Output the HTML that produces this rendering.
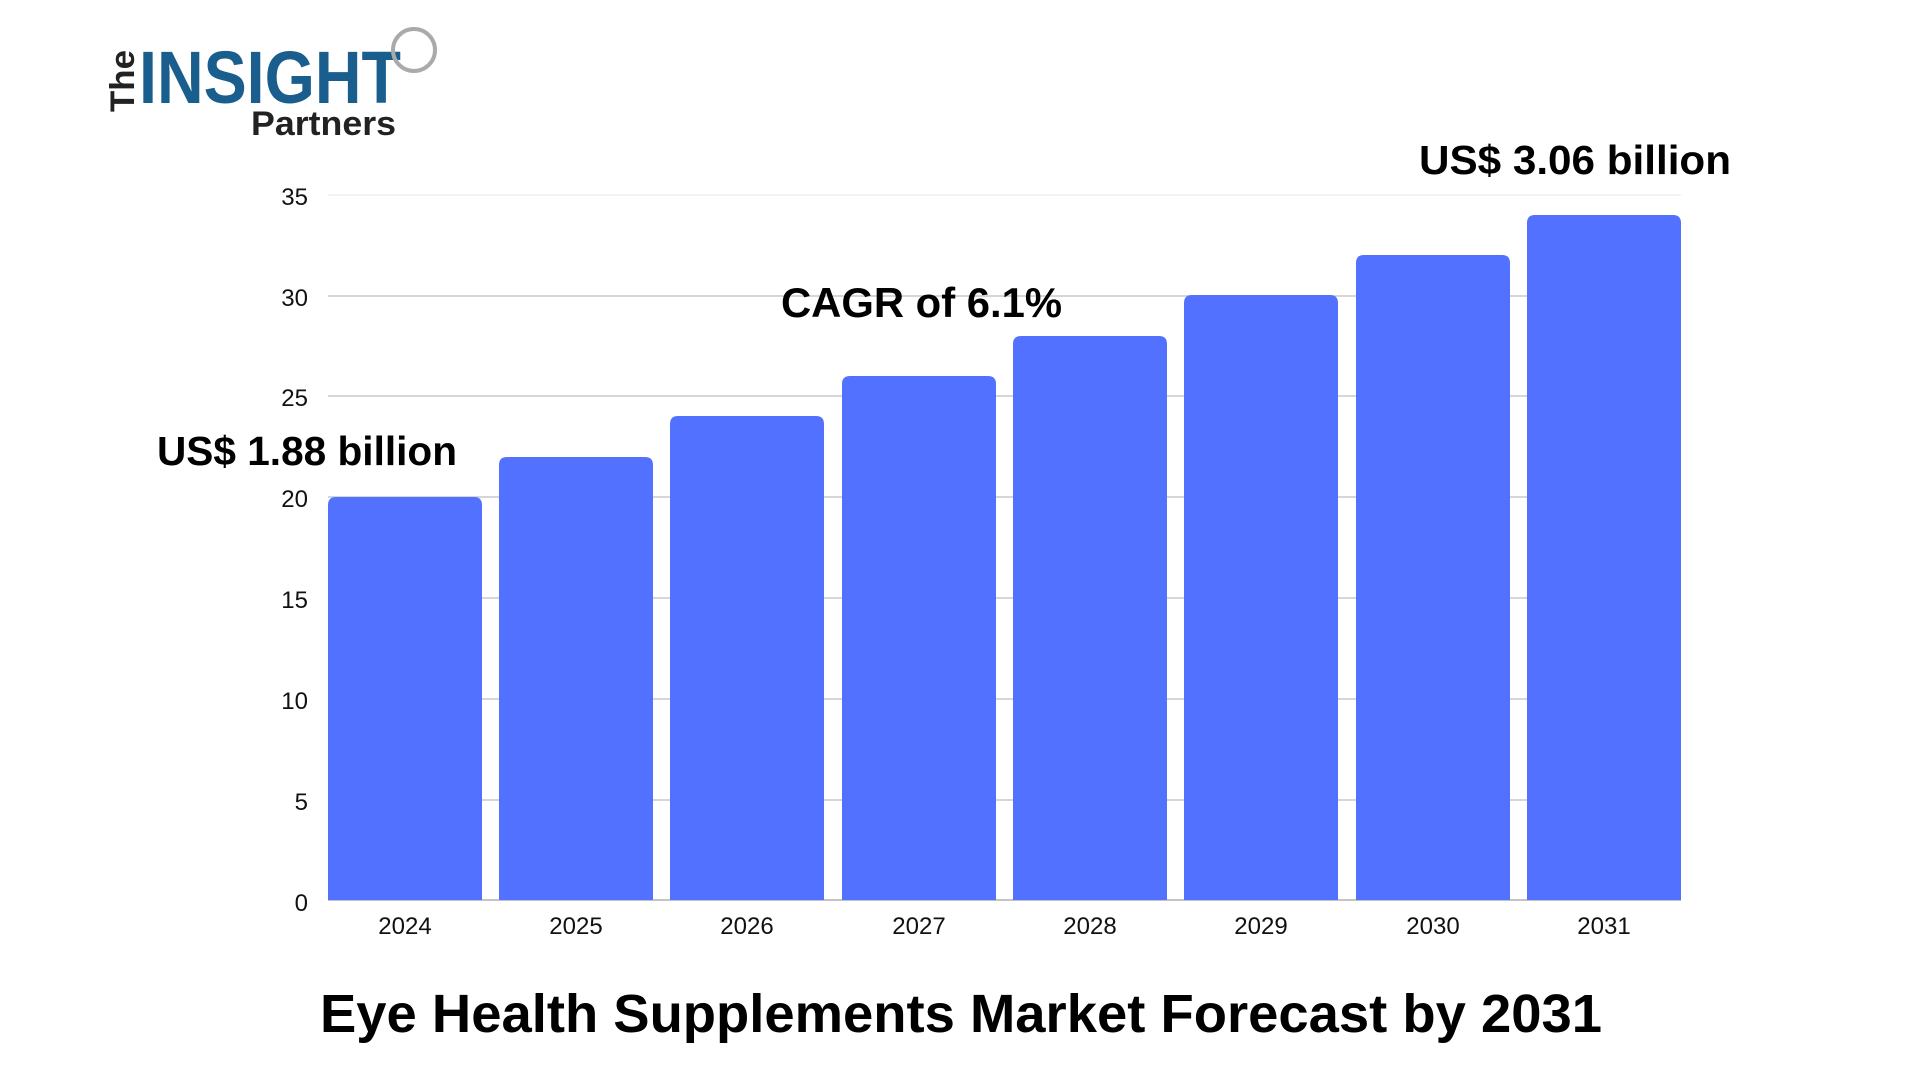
<!DOCTYPE html>
<html><head><meta charset="utf-8"><style>
html,body{margin:0;padding:0;background:#fff;}
svg{display:block;}
text{font-family:"Liberation Sans",sans-serif;}
</style></head><body>
<svg width="1920" height="1080" viewBox="0 0 1920 1080" xmlns="http://www.w3.org/2000/svg">
<rect width="1920" height="1080" fill="#fff"/>
<!-- logo -->
<text x="0" y="0" transform="translate(134,112) rotate(-90)" font-size="34" font-weight="bold" fill="#222" textLength="62" lengthAdjust="spacingAndGlyphs">The</text>
<text x="139" y="103" font-size="74" font-weight="bold" fill="#1a5e8e" textLength="262" lengthAdjust="spacingAndGlyphs">INSIGHT</text>
<circle cx="414" cy="50" r="21" fill="none" stroke="#aaa" stroke-width="4"/>
<text x="251" y="135" font-size="34" font-weight="bold" fill="#222" textLength="145" lengthAdjust="spacingAndGlyphs">Partners</text>
<!-- grid -->
<g stroke-width="1.5">
<line x1="328" x2="1681" y1="195" y2="195" stroke="#eeeeee"/>
<line x1="328" x2="1681" y1="296" y2="296" stroke="#c8c8c8"/>
<line x1="328" x2="1681" y1="396" y2="396" stroke="#c8c8c8"/>
<line x1="328" x2="1681" y1="497" y2="497" stroke="#c8c8c8"/>
<line x1="328" x2="1681" y1="598" y2="598" stroke="#c8c8c8"/>
<line x1="328" x2="1681" y1="699" y2="699" stroke="#c8c8c8"/>
<line x1="328" x2="1681" y1="800" y2="800" stroke="#c8c8c8"/>
<line x1="328" x2="1681" y1="900" y2="900" stroke="#b0b0b0"/>
</g>
<g font-size="24" fill="#111" text-anchor="end">
<text x="308" y="205">35</text>
<text x="308" y="306">30</text>
<text x="308" y="406">25</text>
<text x="308" y="507">20</text>
<text x="308" y="608">15</text>
<text x="308" y="709">10</text>
<text x="308" y="810">5</text>
<text x="308" y="911">0</text>
</g>
<!-- bars -->
<g fill="#5271ff">
<path d="M328,900 V505 q0,-8 8,-8 H474 q8,0 8,8 V900 Z"/>
<path d="M499,900 V465 q0,-8 8,-8 H645 q8,0 8,8 V900 Z"/>
<path d="M670,900 V424 q0,-8 8,-8 H816 q8,0 8,8 V900 Z"/>
<path d="M842,900 V384 q0,-8 8,-8 H988 q8,0 8,8 V900 Z"/>
<path d="M1013,900 V344 q0,-8 8,-8 H1159 q8,0 8,8 V900 Z"/>
<path d="M1184,900 V303 q0,-8 8,-8 H1330 q8,0 8,8 V900 Z"/>
<path d="M1356,900 V263 q0,-8 8,-8 H1502 q8,0 8,8 V900 Z"/>
<path d="M1527,900 V223 q0,-8 8,-8 H1673 q8,0 8,8 V900 Z"/>
</g>
<g font-size="24" fill="#111" text-anchor="middle">
<text x="405" y="934">2024</text>
<text x="576" y="934">2025</text>
<text x="747" y="934">2026</text>
<text x="919" y="934">2027</text>
<text x="1090" y="934">2028</text>
<text x="1261" y="934">2029</text>
<text x="1433" y="934">2030</text>
<text x="1604" y="934">2031</text>
</g>
<!-- annotations -->
<g font-weight="bold" fill="#000">
<text x="157" y="465" font-size="41" textLength="300" lengthAdjust="spacingAndGlyphs">US$ 1.88 billion</text>
<text x="781" y="317" font-size="42" textLength="281" lengthAdjust="spacingAndGlyphs">CAGR of 6.1%</text>
<text x="1419" y="174" font-size="41" textLength="312" lengthAdjust="spacingAndGlyphs">US$ 3.06 billion</text>
<text x="320" y="1032" font-size="54" textLength="1282" lengthAdjust="spacingAndGlyphs">Eye Health Supplements Market Forecast by 2031</text>
</g>
</svg>
</body></html>
